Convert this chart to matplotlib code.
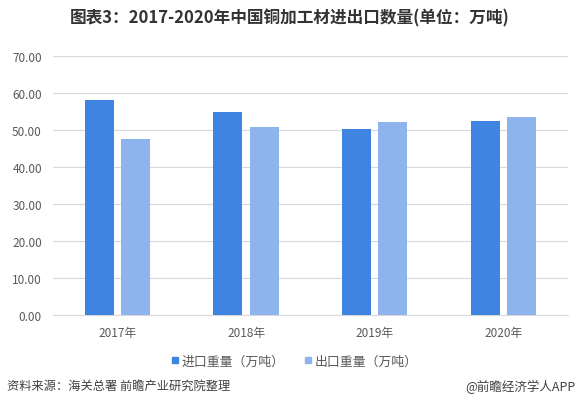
import matplotlib
matplotlib.use("Agg")
import matplotlib.pyplot as plt
from matplotlib.lines import Line2D
import numpy as np

plt.rcParams["font.family"] = ["Noto Sans CJK SC", "DejaVu Sans"]
plt.rcParams["axes.unicode_minus"] = False

years = ["2017年", "2018年", "2019年", "2020年"]
import_vals = [58.2, 54.9, 50.3, 52.5]
export_vals = [47.6, 50.9, 52.3, 53.6]
series_names = ["进口重量（万吨）", "出口重量（万吨）"]
yticks = [0, 10, 20, 30, 40, 50, 60, 70]

DARK = "#3f84e0"
LIGHT = "#8db4ec"
TICK = "#595959"

fig = plt.figure(figsize=(5.8, 4.1), dpi=100)
ax = fig.add_axes([0.0914, 0.2285, 0.8876, 0.6317])

x = np.arange(len(years))
w = 0.226
off = 0.141
ax.bar(x - off, import_vals, w, color=DARK, zorder=3)
ax.bar(x + off, export_vals, w, color=LIGHT, zorder=3)

ax.set_xlim(-0.5, len(years) - 0.5)
ax.set_ylim(0, 70)
ax.set_yticks(yticks)
ax.set_yticklabels([f"{v:.2f}" for v in yticks], color=TICK, fontsize=8.5)
ax.set_xticks(x)
ax.set_xticklabels(years, color=TICK, fontsize=8.5)
ax.tick_params(length=0)
ax.tick_params(axis="x", pad=8)
ax.tick_params(axis="y", pad=8)
ax.grid(axis="y", color="#d9d9d9", linewidth=0.8, zorder=0)
for s in ["top", "right", "left"]:
    ax.spines[s].set_visible(False)
ax.spines["bottom"].set_color("#d9d9d9")

fig.text(0.5, 0.955, "图表3：2017-2020年中国铜加工材进出口数量(单位：万吨)",
         ha="center", va="center", fontsize=12, fontweight="bold", color="#333333")

handles = [Line2D([], [], linestyle="none", marker="s", markersize=4.5,
                  markerfacecolor=c, markeredgecolor=c) for c in (DARK, LIGHT)]
fig.legend(handles, series_names, loc="center", bbox_to_anchor=(0.508, 0.117), ncol=2,
           frameon=False, fontsize=9.3, handlelength=0.5, handletextpad=0.25,
           columnspacing=1.6, labelcolor=TICK)

fig.text(0.012, 0.057, "资料来源：海关总署 前瞻产业研究院整理", ha="left", va="center",
         fontsize=8.8, color="#404040")
fig.text(0.993, 0.057, "@前瞻经济学人APP", ha="right", va="center",
         fontsize=9, color="#404040")

fig.savefig("out.png", dpi=100)
